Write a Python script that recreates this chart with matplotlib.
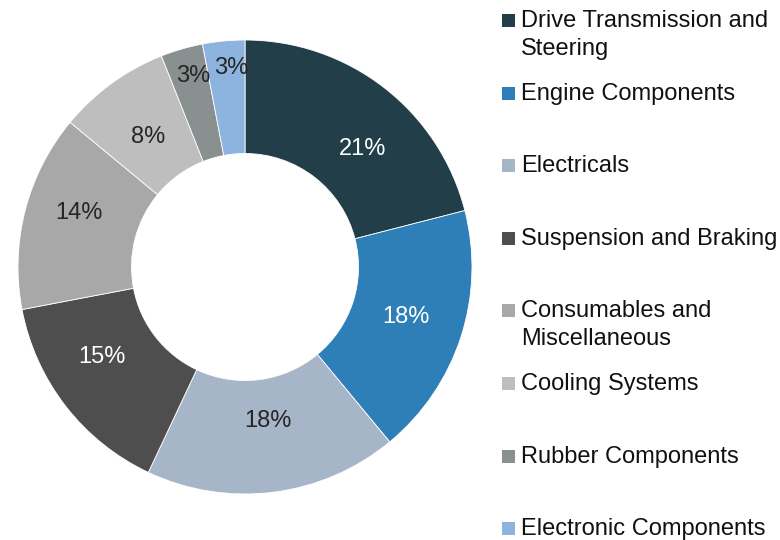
import matplotlib
matplotlib.use("Agg")
import matplotlib.pyplot as plt
from matplotlib.patches import Rectangle
import numpy as np

plt.rcParams['font.family'] = ['Liberation Sans', 'DejaVu Sans']

categories = ["Drive Transmission and Steering", "Engine Components", "Electricals",
              "Suspension and Braking", "Consumables and Miscellaneous", "Cooling Systems",
              "Rubber Components", "Electronic Components"]
legend_labels = ["Drive Transmission and\nSteering", "Engine Components", "Electricals",
                 "Suspension and Braking", "Consumables and\nMiscellaneous", "Cooling Systems",
                 "Rubber Components", "Electronic Components"]
shares = [21, 18, 18, 15, 14, 8, 3, 3]
colors = ["#223E48", "#2E7FB8", "#A7B5C9", "#4E4E4E", "#A8A8A8", "#BEBEBE", "#889090", "#8DB4DE"]
label_colors = ["white", "white", "#262626", "white", "#262626", "#262626", "#262626", "#262626"]
# label placement (fraction of radius, angular offset in degrees from wedge centre)
label_dist = [0.74, 0.74, 0.68, 0.74, 0.77, 0.72, 0.88, 0.885]
label_shift = [-6.7, 1.4, 1.3, -6.2, -4.2, 0.3, -1.1, -1.4]

fig = plt.figure(figsize=(7.8, 5.4), dpi=100)
cx, cy, R = 245, 267, 227
ax = fig.add_axes([(cx - R) / 780, (540 - cy - R) / 540, 2 * R / 780, 2 * R / 540])
wedges, _ = ax.pie(shares, colors=colors, startangle=90, counterclock=False,
                   wedgeprops=dict(width=0.5, edgecolor="white", linewidth=0.6))
ax.set_xlim(-1, 1)
ax.set_ylim(-1, 1)
ax.set_aspect('equal')
ax.axis('off')

for w, s, c, d, sh in zip(wedges, shares, label_colors, label_dist, label_shift):
    ang = np.deg2rad((w.theta1 + w.theta2) / 2 + sh)
    ax.text(d * np.cos(ang), d * np.sin(ang) - 0.008, f"{s}%", ha='center', va='center',
            fontsize=17, color=c)

# legend
for i, (lab, col) in enumerate(zip(legend_labels, colors)):
    base = 27 + 72.6 * i
    fig.patches.append(Rectangle((502 / 780, 1 - base / 540), 13 / 780, 13 / 540,
                                 transform=fig.transFigure, facecolor=col, edgecolor='none'))
    lines = lab.split("\n")
    for j, line in enumerate(lines):
        fig.text(521 / 780, 1 - (base + 28 * j) / 540, line, fontsize=17, color="#111111",
                 ha='left', va='baseline')

fig.savefig("out.png", dpi=100)
